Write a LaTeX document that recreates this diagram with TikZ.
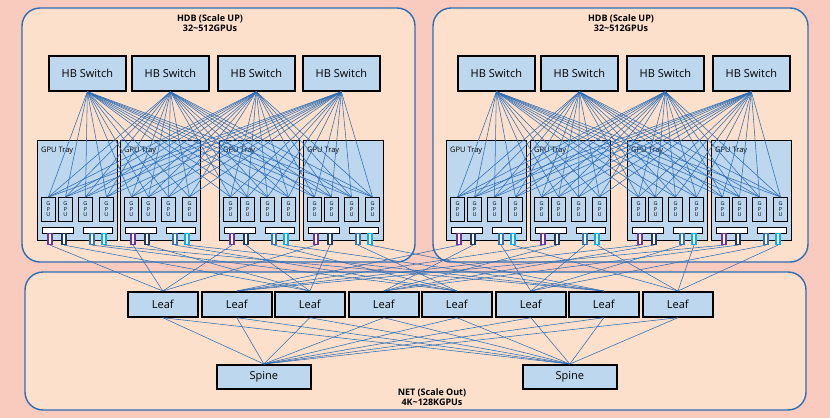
\documentclass[tikz,border=0pt]{standalone}
\usepackage{fontspec}
\setmainfont{Open Sans}
\begin{document}
\begin{tikzpicture}[x=1pt,y=-1pt,
  panel/.style={draw=edge,fill=peach,line width=1.4pt,rounded corners=18pt},
  box/.style={draw=black,fill=lblue,line width=1.7pt,inner sep=0pt,font=\fontsize{11}{13}\selectfont},
  tray/.style={draw=black,fill=lblue,line width=1.3pt,inner sep=0pt},
  gpu/.style={draw=black,fill=lblue,line width=1pt,inner sep=0pt,align=center,font=\fontsize{5.5}{5.5}\selectfont},
  bar/.style={draw=black,fill=white,line width=0.9pt,inner sep=0pt},
  port/.style={draw=#1,fill=white,line width=1.1pt,inner sep=0pt,minimum width=4pt,minimum height=11pt},
  wire/.style={draw=wireblue,line width=0.55pt},
  ttl/.style={font=\bfseries\fontsize{9}{10.5}\selectfont,align=center,inner sep=0pt}]
\definecolor{bg}{HTML}{F9CBBE}
\definecolor{peach}{HTML}{FCE0CC}
\definecolor{edge}{HTML}{2E6DB4}
\definecolor{lblue}{HTML}{BDD7EE}
\definecolor{wireblue}{HTML}{2E6DB4}
\definecolor{p0}{HTML}{7030A0}
\definecolor{p1}{HTML}{1F3864}
\definecolor{p2}{HTML}{2E75B6}
\definecolor{p3}{HTML}{00B0F0}
\fill[bg] (0,0) rectangle (830,418);
\useasboundingbox (0,0) rectangle (830,418);
\draw[panel] (22,8) rectangle (415,262);
\draw[panel] (433,8) rectangle (808,262);
\draw[panel] (25,272) rectangle (806,410);
\node[ttl] (t1) at (210,23) {HDB (Scale UP)\\32\textasciitilde512GPUs};
\node[ttl] (t2) at (621,23) {HDB (Scale UP)\\32\textasciitilde512GPUs};
\node[ttl] (t3) at (432,397) {NET (Scale Out)\\4K\textasciitilde128KGPUs};
% trays
\foreach \s/\xa/\xb/\xc/\xd in {0/37/120/219/303, 1/446/530/627/711}{
  \foreach \tx [count=\t from 0] in {\xa,\xb,\xc,\xd}{
    \node[tray,minimum width=80pt,minimum height=100pt,anchor=north west] (tr\s\t) at (\tx,140) {};
    \node[anchor=west,font=\fontsize{7.5}{8}\selectfont,inner sep=0pt] (tl\s\t) at (\tx+4,151) {GPU Tray};
  }
}
% switches
\foreach \s/\xa/\xb/\xc/\xd in {0/48/131/217/302, 1/457/540/626/712}{
  \foreach \sx [count=\k from 0] in {\xa,\xb,\xc,\xd}{
    \node[box,minimum width=77pt,minimum height=35pt,anchor=north west] (hb\s\k) at (\sx,55) {HB Switch};
  }
}
% gpu boxes
\foreach \s/\xa/\xb/\xc/\xd in {0/37/120/219/303, 1/446/530/627/711}{
  \foreach \tx [count=\t from 0] in {\xa,\xb,\xc,\xd}{
    \foreach \g/\gx in {0/4,1/21,2/41,3/62}{
      \node[gpu,minimum width=14pt,minimum height=24pt,anchor=north west] (g\s\t\g) at (\tx+\gx,197) {G\\P\\U};
    }
  }
}
\foreach \s in {0,1}{\foreach \t in {0,...,3}{\foreach \g in {0,...,3}{\foreach \k in {0,...,3}{
  \draw[wire] (hb\s\k.south) -- (g\s\t\g.north);
}}}}
% NICs and ports
\foreach \s/\xa/\xb/\xc/\xd in {0/37/120/219/303, 1/446/530/627/711}{
  \foreach \tx [count=\t from 0] in {\xa,\xb,\xc,\xd}{
    \node[bar,minimum width=31pt,minimum height=6pt,anchor=north west] (na\s\t) at (\tx+5,227) {};
    \node[bar,minimum width=29pt,minimum height=6pt,anchor=north west] (nb\s\t) at (\tx+46,227) {};
    \foreach \p/\px in {0/13,1/27,2/55,3/67}{
      \node[port=p\p,anchor=north] (pt\s\t\p) at (\tx+\px,233) {};
    }
  }
}
% leaves and spines
\foreach \lx [count=\l from 0] in {127,201,274,348,421,495,568,642}{
  \node[box,minimum width=70pt,minimum height=25pt,anchor=north west] (lf\l) at (\lx,291) {Leaf};
}
\node[box,minimum width=94pt,minimum height=24pt,anchor=north west] (sp0) at (216,364) {Spine};
\node[box,minimum width=94pt,minimum height=24pt,anchor=north west] (sp1) at (522,364) {Spine};
\foreach \s in {0,1}{\foreach \t in {0,...,3}{\foreach \p in {0,...,3}{
  \pgfmathtruncatemacro{\lf}{2*\p+\s}
  \draw[wire] (pt\s\t\p.south) -- (lf\lf.north);
}}}
\foreach \l in {0,...,7}{\foreach \k in {0,1}{
  \draw[wire] (lf\l.south) -- (sp\k.north);
}}
\end{tikzpicture}
\end{document}
